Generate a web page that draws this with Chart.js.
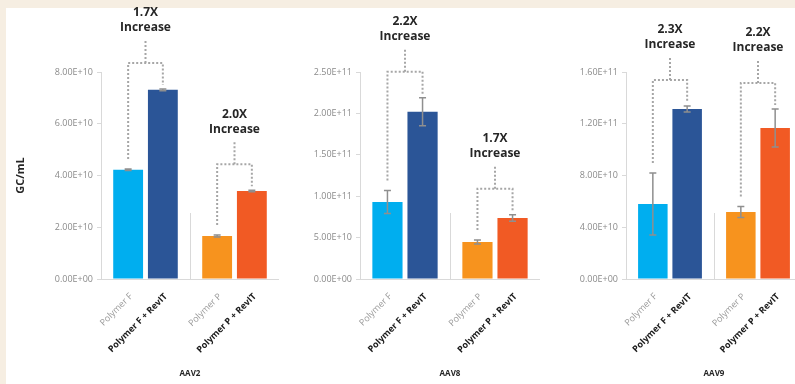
<!DOCTYPE html>
<html>
<head>
<meta charset="utf-8">
<script src="https://cdn.jsdelivr.net/npm/chart.js@4"></script>
<style>
  html, body { margin: 0; padding: 0; overflow: hidden; }
  body { width: 795px; height: 384px; background: #f6eee2; position: relative; font-family: 'Open Sans', sans-serif; }
  #sheet { position: absolute; left: 6px; top: 8px; width: 789px; height: 376px; background: #fff; }
  .panel { position: absolute; top: 0; height: 384px; }
</style>
</head>
<body>
<div id="sheet"></div>
<div class="panel" style="left:6px;width:273px"><canvas id="c-aav2"></canvas></div>
<div class="panel" style="left:278px;width:262px"><canvas id="c-aav8"></canvas></div>
<div class="panel" style="left:540px;width:262px"><canvas id="c-aav9"></canvas></div>
<script>
// Dữ liệu: F, F + RevIT, P, P + RevIT
const barLabels = ['Polymer F', 'Polymer F + RevIT', 'Polymer P', 'Polymer P + RevIT'];
const groups = ['Polymer F', 'Polymer P'];

const aav2Values = [4.22e10, 7.31e10, 1.66e10, 3.40e10];
const aav2Errors = [3e8, 3e8, 4e8, 3e8];
const aav2Fold = ['1.7X', '2.0X'];
const aav2Ticks = [0, 2e10, 4e10, 6e10, 8e10];
const aav2TickLabels = ['0.00E+00', '2.00E+10', '4.00E+10', '6.00E+10', '8.00E+10'];

const aav8Values = [9.3e10, 2.02e11, 4.47e10, 7.37e10];
const aav8Errors = [1.4e10, 1.7e10, 2.5e9, 4e9];
const aav8Fold = ['2.2X', '1.7X'];
const aav8Ticks = [0, 5e10, 1e11, 1.5e11, 2e11, 2.5e11];
const aav8TickLabels = ['0.00E+00', '5.00E+10', '1.00E+11', '1.50E+11', '2.00E+11', '2.50E+11'];

const aav9Values = [5.8e10, 1.314e11, 5.18e10, 1.167e11];
const aav9Errors = [2.4e10, 2.3e9, 4.3e9, 1.47e10];
const aav9Fold = ['2.3X', '2.2X'];
const aav9Ticks = [0, 4e10, 8e10, 1.2e11, 1.6e11];
const aav9TickLabels = ['0.00E+00', '4.00E+10', '8.00E+10', '1.20E+11', '1.60E+11'];

const FONT = "'Open Sans', sans-serif";
const GRAY_LINE = '#d9d9d9';

// Vẽ thanh sai số, vạch ngăn, ngoặc chấm và nhãn xoay
const extras = {
  id: 'extras',
  afterDatasetsDraw(chart, args, opts) {
    const ctx = chart.ctx;
    const x = chart.scales.x, y = chart.scales.y;
    const area = chart.chartArea;
    const m0 = chart.getDatasetMeta(0), m1 = chart.getDatasetMeta(1);
    const bars = [m0.data[0], m1.data[0], m0.data[1], m1.data[1]];
    const tops = [];

    ctx.save();
    // error bars
    ctx.strokeStyle = '#8f8f8f';
    ctx.lineWidth = 1.5;
    bars.forEach((el, i) => {
      const v = opts.values[i], e = opts.errors[i];
      const yt = y.getPixelForValue(v + e), yb = y.getPixelForValue(v - e);
      tops.push(yt);
      ctx.beginPath();
      ctx.moveTo(el.x, yt); ctx.lineTo(el.x, yb);
      ctx.moveTo(el.x - 3.5, yt); ctx.lineTo(el.x + 3.5, yt);
      ctx.moveTo(el.x - 3.5, yb); ctx.lineTo(el.x + 3.5, yb);
      ctx.stroke();
    });

    // separator between groups
    const sx = (x.getPixelForValue(0) + x.getPixelForValue(1)) / 2;
    ctx.strokeStyle = GRAY_LINE;
    ctx.lineWidth = 1;
    ctx.beginPath();
    ctx.moveTo(Math.round(sx) + 0.5, area.bottom);
    ctx.lineTo(Math.round(sx) + 0.5, area.bottom - 66);
    ctx.stroke();

    // dotted brackets + fold labels
    for (let g = 0; g < 2; g++) {
      const a = bars[g * 2], b = bars[g * 2 + 1];
      const ta = tops[g * 2], tb = tops[g * 2 + 1];
      const h = Math.min(ta, tb) - 26;
      const mid = (a.x + b.x) / 2;
      ctx.strokeStyle = '#a6a6a6';
      ctx.lineWidth = 2;
      ctx.setLineDash([2, 2]);
      ctx.beginPath();
      ctx.moveTo(a.x, ta - 10); ctx.lineTo(a.x, h);
      ctx.lineTo(b.x, h); ctx.lineTo(b.x, tb - 4);
      ctx.moveTo(mid, h); ctx.lineTo(mid, h - 22);
      ctx.stroke();
      ctx.setLineDash([]);
      ctx.fillStyle = '#262626';
      ctx.font = 'bold 12px ' + FONT;
      ctx.textAlign = 'center';
      ctx.textBaseline = 'middle';
      ctx.fillText(opts.fold[g], mid, h - 22 - 28);
      ctx.fillText('Increase', mid, h - 22 - 13);
    }

    // rotated bar labels
    bars.forEach((el, i) => {
      const withRev = i % 2 === 1;
      ctx.save();
      ctx.translate(el.x + 3, area.bottom + 16);
      ctx.rotate(-Math.PI / 4);
      ctx.textAlign = 'right';
      ctx.textBaseline = 'middle';
      ctx.fillStyle = withRev ? '#1a1a1a' : '#9a9a9a';
      ctx.font = (withRev ? 'bold ' : '') + '9px ' + FONT;
      ctx.fillText(barLabels[i], 0, 0);
      ctx.restore();
    });
    ctx.restore();
  }
};

function makeChart(id, name, values, errors, fold, ticks, tickLabels, axisWidth, showTitle) {
  return new Chart(document.getElementById(id), {
    type: 'bar',
    data: {
      labels: groups,
      datasets: [
        {
          label: 'Polymer',
          data: [values[0], values[2]],
          backgroundColor: ['#00aeef', '#f7931e'],
          borderWidth: 0
        },
        {
          label: 'Polymer + RevIT',
          data: [values[1], values[3]],
          backgroundColor: ['#2b5597', '#f15a24'],
          borderWidth: 0
        }
      ]
    },
    options: {
      responsive: true,
      maintainAspectRatio: false,
      animation: false,
      layout: { padding: { top: 72, left: 0, right: 0, bottom: 0 } },
      categoryPercentage: 0.78,
      barPercentage: 0.86,
      plugins: {
        legend: { display: false },
        tooltip: { enabled: false },
        extras: { values, errors, fold }
      },
      scales: {
        x: {
          grid: { drawOnChartArea: false, drawTicks: false },
          border: { display: true, color: GRAY_LINE },
          ticks: { display: false },
          title: {
            display: true, text: name, color: '#262626',
            font: { family: FONT, size: 8, weight: 'bold' },
            padding: { top: 0, bottom: 5 }
          },
          afterFit: s => { s.height = 105; }
        },
        y: {
          min: 0,
          max: ticks[ticks.length - 1],
          afterBuildTicks: s => { s.ticks = ticks.map(v => ({ value: v })); },
          grid: { drawOnChartArea: false, drawTicks: true, tickLength: 4, color: GRAY_LINE },
          border: { display: true, color: GRAY_LINE },
          ticks: {
            padding: 4,
            color: '#8a8a8a',
            font: { family: FONT, size: 9 },
            callback: (v, i) => tickLabels[i]
          },
          title: {
            display: showTitle, text: 'GC/mL', color: '#262626',
            font: { family: FONT, size: 11, weight: 'bold' },
            padding: { top: 8, bottom: 0 }
          },
          afterFit: s => { s.width = axisWidth; }
        }
      }
    },
    plugins: [extras]
  });
}

makeChart('c-aav2', 'AAV2', aav2Values, aav2Errors, aav2Fold, aav2Ticks, aav2TickLabels, 95, true);
makeChart('c-aav8', 'AAV8', aav8Values, aav8Errors, aav8Fold, aav8Ticks, aav8TickLabels, 82, false);
makeChart('c-aav9', 'AAV9', aav9Values, aav9Errors, aav9Fold, aav9Ticks, aav9TickLabels, 86, false);
</script>
</body>
</html>
